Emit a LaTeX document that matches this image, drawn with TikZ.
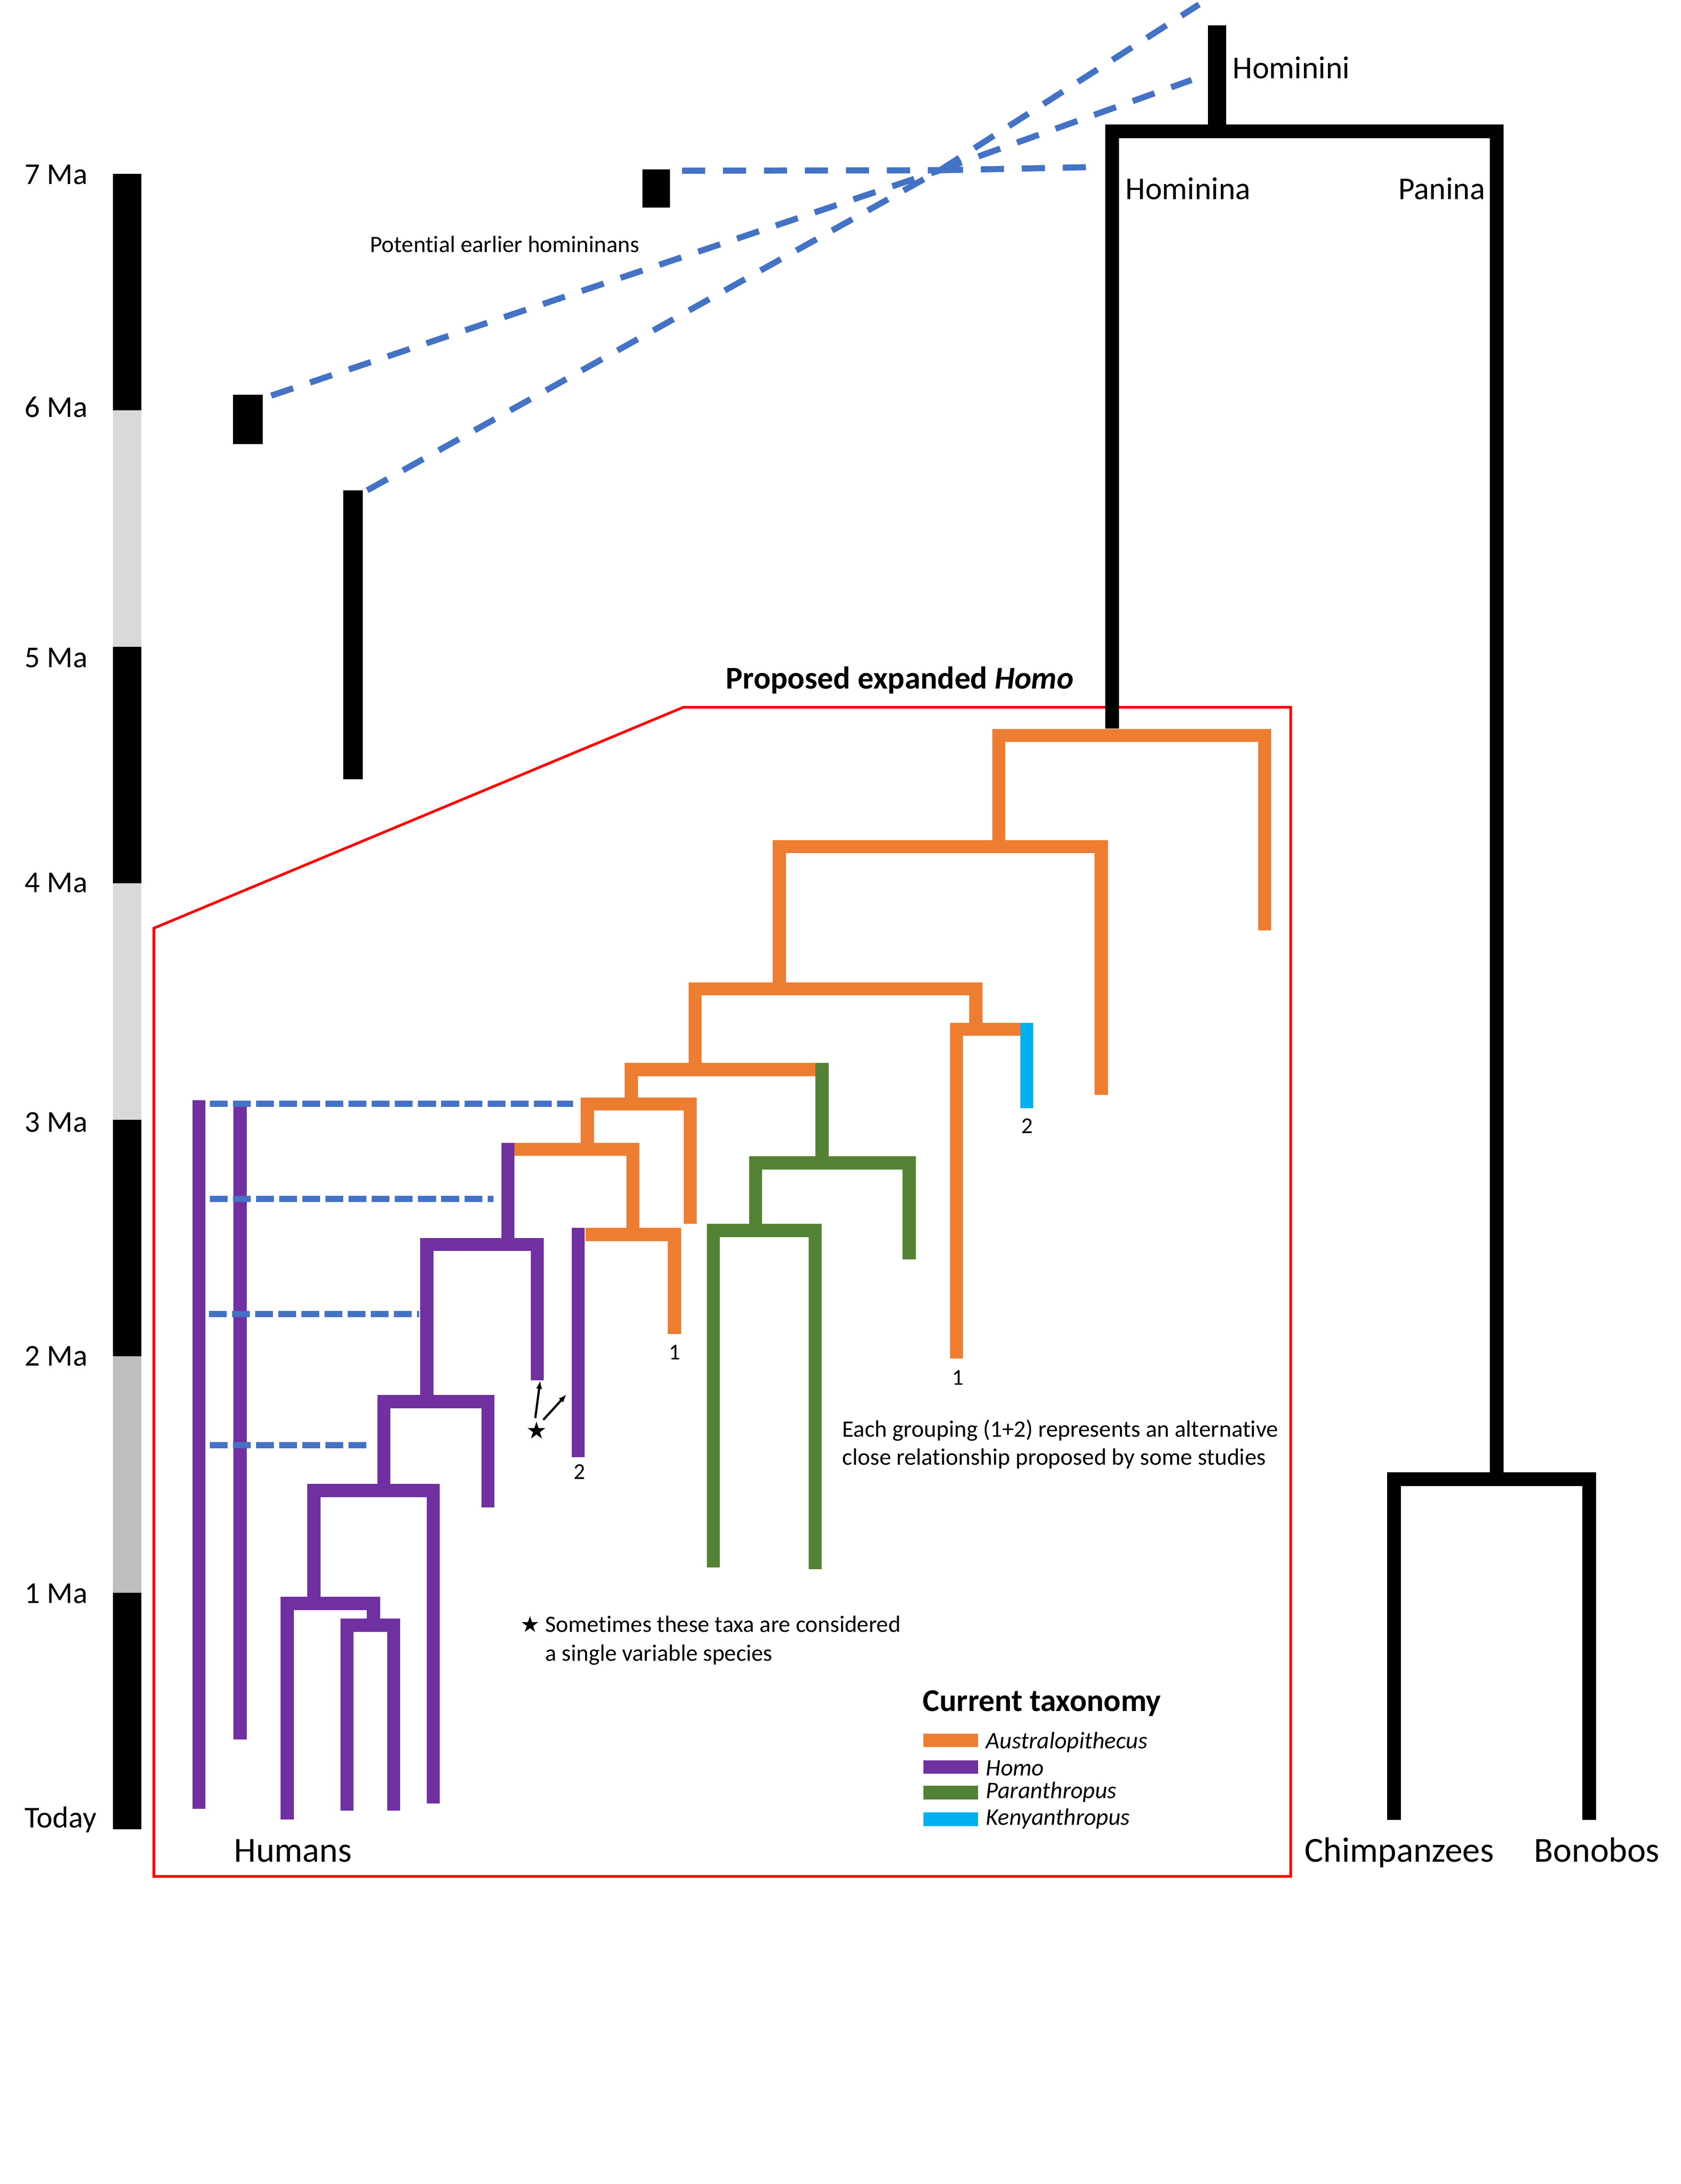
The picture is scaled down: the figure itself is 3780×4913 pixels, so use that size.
\documentclass[tikz,border=0pt]{standalone}
\usepackage{fontspec}
\setmainfont{Carlito}[Ligatures=NoCommon]
\newfontfamily\symfont{DejaVu Sans}
\usetikzlibrary{arrows.meta}
\definecolor{orng}{HTML}{ED7D31}
\definecolor{purp}{HTML}{7030A0}
\definecolor{grn}{HTML}{548235}
\definecolor{kblue}{HTML}{00B0F0}
\definecolor{dblue}{HTML}{4472C4}
\definecolor{lgray}{HTML}{D9D9D9}
\definecolor{mgray}{HTML}{BFBFBF}
\begin{document}
\begin{tikzpicture}[x=0.01cm,y=-0.01cm,
  branch/.style={line width=8.3pt, line join=miter, line cap=butt},
  blk/.style={branch, black, line width=8.8pt},
  orb/.style={branch, orng},
  pub/.style={branch, purp},
  grb/.style={branch, grn},
  tdash/.style={dblue, line width=3.9pt, line cap=butt, dash pattern=on 14.8pt off 11.4pt},
  bdash/.style={dblue, line width=3.8pt, line cap=butt, dash pattern=on 11.4pt off 3.4pt},
  lbl/.style={anchor=base west, inner sep=0pt},
  fbig/.style={font=\fontsize{20.3}{24}\selectfont},
  fma/.style={font=\fontsize{19.4}{23}\selectfont},
  fname/.style={font=\fontsize{22.5}{27}\selectfont},
  fsmall/.style={font=\fontsize{15.1}{18}\selectfont},
  fnote/.style={font=\fontsize{15}{18}\selectfont},
  fdig/.style={font=\fontsize{14.5}{17}\selectfont},
  fleg/.style={font=\fontsize{15.2}{18}\selectfont\itshape}
]
\useasboundingbox (0,0) rectangle (3780,4913);

% ---------- time scale ----------
\fill[black] (254,391) rectangle (318,923);
\fill[lgray] (254,923) rectangle (318,1455);
\fill[black] (254,1455) rectangle (318,1987);
\fill[lgray] (254,1987) rectangle (318,2519);
\fill[black] (254,2519) rectangle (318,3051);
\fill[mgray] (254,3051) rectangle (318,3583);
\fill[black] (254,3583) rectangle (318,4115);
\node[lbl,fma] (t7) at (55,415) {7 Ma};
\node[lbl,fma] (t6) at (55,939) {6 Ma};
\node[lbl,fma] (t5) at (55,1501) {5 Ma};
\node[lbl,fma] (t4) at (55,2007) {4 Ma};
\node[lbl,fma] (t3) at (55,2546) {3 Ma};
\node[lbl,fma] (t2) at (55,3072) {2 Ma};
\node[lbl,fma] (t1) at (55,3606) {1 Ma};
\node[lbl,fma] (t0) at (55,4111) {Today};

% ---------- red box ----------
\draw[red, line width=1.7pt, line join=miter] (1537,1591) -- (2903,1591) -- (2903,4221) -- (346,4221) -- (346,2088) -- cycle;
\node[lbl, font=\fontsize{20.3}{24}\selectfont\bfseries] (prop) at (1632,1549) {Proposed expanded \textit{Homo}};

% ---------- early hominins ----------
\fill[black] (1445,381) rectangle (1507,467);
\fill[black] (524,888) rectangle (591,999);
\fill[black] (772,1103) rectangle (816,1753);
\node[lbl, font=\fontsize{15}{18}\selectfont] (pot) at (832,568) {Potential earlier homininans};
\coordinate (conv) at (2114,383);
\draw[tdash] (1534,384) -- (conv);
\draw[tdash] (610,890) -- (conv);
\draw[tdash] (826,1103) -- (conv);
\draw[tdash] (conv) -- (2697,10);
\draw[tdash] (conv) -- (2680,180);
\draw[tdash] (conv) -- (2450,376);

% ---------- black tree ----------
\fill[black] (2717,57) rectangle (2758,296);
\draw[blk] (2501,1639) |- (3366,295.5) -- (3366,3327);
\draw[blk] (3135.5,4094) |- (3574.5,3327) -- (3574.5,4094);
\node[lbl,fbig] (hominini) at (2772,177) {Hominini};
\node[lbl,fbig] (hominina) at (2531,449) {Hominina};
\node[anchor=base east, inner sep=0pt, fbig] (panina) at (3341,449) {Panina};
\node[lbl,fname] (chimp) at (2934,4188) {Chimpanzees};
\node[lbl,fname] (bono) at (3450,4188) {Bonobos};
\node[lbl,fname] (humans) at (526,4188) {Humans};

% ---------- orange ----------
\draw[orb] (2246.5,1904.5) |- (2844.5,1654.5) -- (2844.5,2093);
\draw[orb] (1753,2224.5) |- (2477,1904.5) -- (2477,2463);
\draw[orb] (1563.5,2406) |- (2195,2224.5) -- (2195,2315.5);
\draw[orb] (2151.5,3056) |- (2295,2315.5);
\fill[kblue] (2295,2301) rectangle (2324,2493);
\draw[orb] (1420,2483.5) |- (1836,2406);
\draw[orb] (1321,2585.5) |- (1552.5,2483.5) -- (1552.5,2753);
\draw[orb] (1157,2585.5) -| (1423.5,2777);
\draw[orb] (1317,2777) -| (1517,3001);

% ---------- green ----------
\draw[grb] (1849,2391) -- (1849,2616);
\draw[grb] (1699.5,2768) |- (2045,2616) -- (2045,2833);
\draw[grb] (1604.5,3526) |- (1833.5,2768) -- (1833.5,3530);

% ---------- purple ----------
\draw[pub] (1142.5,2571) -- (1142.5,2799.5);
\draw[pub] (1300.5,2762) -- (1300.5,3278);
\draw[pub] (960,3153) |- (1208.5,2799.5) -- (1208.5,3105);
\draw[pub] (863.5,3353) |- (1097.5,3153) -- (1097.5,3391);
\draw[pub] (706,3607) |- (974.5,3353) -- (974.5,4057);
\draw[pub] (646,4093) |- (840,3607) -- (840,3656);
\draw[pub] (780.5,4073) |- (885.5,3656) -- (885.5,4073);
\draw[pub] (447.5,2475) -- (447.5,4069);
\draw[pub] (540,2482) -- (540,3913);

% ---------- dashed in box ----------
\draw[bdash] (472,2483) -- (1289,2483);
\draw[bdash] (472,2697) -- (1110,2697);
\draw[bdash] (470,2956) -- (943,2956);
\draw[bdash] (472,3251) -- (824,3251);

% ---------- digits ----------
\node[anchor=base, inner sep=0pt, fdig] (d2a) at (2310,2549) {2};
\node[anchor=base, inner sep=0pt, fdig] (d1a) at (2154,3115) {1};
\node[anchor=base, inner sep=0pt, fdig] (d1b) at (1517,3058) {1};
\node[anchor=base, inner sep=0pt, fdig] (d2b) at (1303,3327) {2};

% ---------- star and arrows ----------
\node[inner sep=0pt, font=\symfont\fontsize{15}{15}\selectfont] (star) at (1207,3218) {★};
\coordinate (a1s) at (1204,3190);
\coordinate (a1e) at (1215,3106);
\coordinate (a2s) at (1222,3194);
\coordinate (a2e) at (1274,3137);
\draw[line width=1.4pt, -{Latex[length=0.18cm,width=0.14cm]}] (a1s) -- (a1e);
\draw[line width=1.4pt, -{Latex[length=0.18cm,width=0.14cm]}] (a2s) -- (a2e);

% ---------- notes ----------
\node[lbl, font=\symfont\fontsize{14}{17}\selectfont] (nstar) at (1170,3671) {★};
\node[lbl,fnote] (n1) at (1226,3671) {Sometimes these taxa are considered};
\node[lbl,fnote] (n2) at (1226,3736) {a single variable species};
\node[lbl,fsmall] (e1) at (1894,3232) {Each grouping (1+2) represents an alternative};
\node[lbl,fsmall] (e2) at (1894,3295) {close relationship proposed by some studies};

% ---------- legend ----------
\node[lbl, font=\fontsize{20.3}{24}\selectfont\bfseries] (leg) at (2075,3849) {Current taxonomy};
\fill[orng] (2077,3900) rectangle (2200,3930);
\fill[purp] (2077,3960) rectangle (2200,3990);
\fill[grn] (2077,4017) rectangle (2200,4048);
\fill[kblue] (2077,4077) rectangle (2200,4108);
\node[lbl,fleg] (l1) at (2217,3933) {Australopithecus};
\node[lbl,fleg] (l2) at (2217,3994) {Homo};
\node[lbl,fleg] (l3) at (2217,4045) {Paranthropus};
\node[lbl,fleg] (l4) at (2217,4105) {Kenyanthropus};
\end{tikzpicture}
\end{document}
